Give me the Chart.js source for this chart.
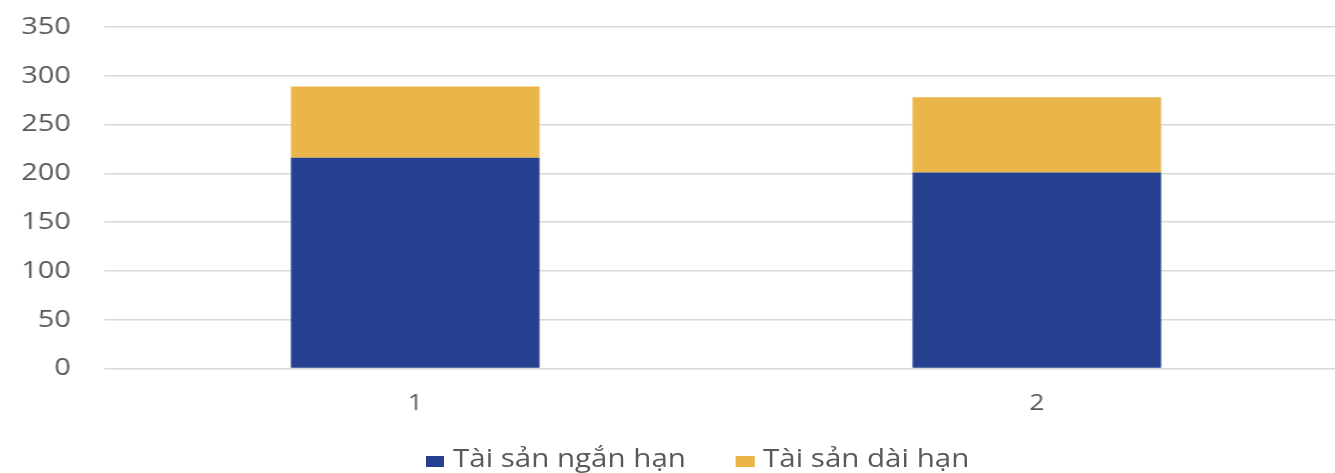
<!DOCTYPE html>
<html>
<head>
<meta charset="utf-8">
<script src="https://cdn.jsdelivr.net/npm/chart.js@4.4.1/dist/chart.umd.min.js"></script>
<style>
  html, body { margin: 0; padding: 0; background: #fff; width: 1335px; height: 473px; overflow: hidden; }
  /* the reference picture is stretched sideways, so the whole chart is drawn narrower and scaled */
  #wrap { position: absolute; left: 0; top: 0; width: 1123px; height: 473px; transform: scaleX(1.2); transform-origin: 0 0; }
  .box { position: absolute; top: 456px; width: 15.5px; height: 10.7px; }
  .lbl { position: absolute; top: 446px; font: 24.6px "Open Sans"; line-height: 24px; color: #595959; white-space: nowrap; }
</style>
</head>
<body>
<div id="wrap">
  <canvas id="chart"></canvas>
  <span class="box" id="box0" style="left:354.8px"></span>
  <span class="lbl" id="lbl0" style="left:377.5px"></span>
  <span class="box" id="box1" style="left:613.1px"></span>
  <span class="lbl" id="lbl1" style="left:635.9px"></span>
</div>
<script>
const categories = ['1', '2']
const seriesNames = ['Tài sản ngắn hạn', 'Tài sản dài hạn']
const shortTerm = [216, 201]
const longTerm = [73, 77]
const seriesColors = ['#25408F', '#EAB64A']

const tickColor = '#595959'

// html legend, placed like the reference one
seriesNames.forEach((name, i) => {
  document.getElementById('box' + i).style.background = seriesColors[i]
  document.getElementById('lbl' + i).textContent = name
})

const data = {
  labels: categories,
  datasets: [
    { label: seriesNames[0], data: shortTerm, backgroundColor: seriesColors[0] },
    { label: seriesNames[1], data: longTerm, backgroundColor: seriesColors[1] }
  ]
}

const config = {
  type: 'bar',
  data: data,
  options: {
    responsive: true,
    maintainAspectRatio: false,
    animation: false,
    devicePixelRatio: 1,
    layout: { padding: { top: 27, right: 0, bottom: 0, left: 0 } },
    datasets: {
      bar: { barPercentage: 0.4, categoryPercentage: 1.0 }
    },
    plugins: {
      legend: { display: false },
      tooltip: { enabled: false }
    },
    scales: {
      x: {
        stacked: true,
        grid: { display: false },
        border: { display: false },
        ticks: { color: tickColor, font: { family: 'Open Sans', size: 22 }, padding: 14 },
        afterFit: (scale) => { scale.height = 104.5 }
      },
      y: {
        stacked: true,
        min: 0,
        max: 350,
        ticks: { stepSize: 50, color: tickColor, font: { family: 'Open Sans', size: 24 }, padding: 28 },
        grid: { color: '#d9d9d9', lineWidth: 1.5, drawTicks: false },
        border: { display: false },
        afterFit: (scale) => {
          // tick padding would otherwise push the plot top down
          scale.width = 87
          scale.paddingTop = 0
          scale.paddingBottom = 0
        }
      }
    }
  }
}

new Chart(document.getElementById('chart'), config)
</script>
</body>
</html>
